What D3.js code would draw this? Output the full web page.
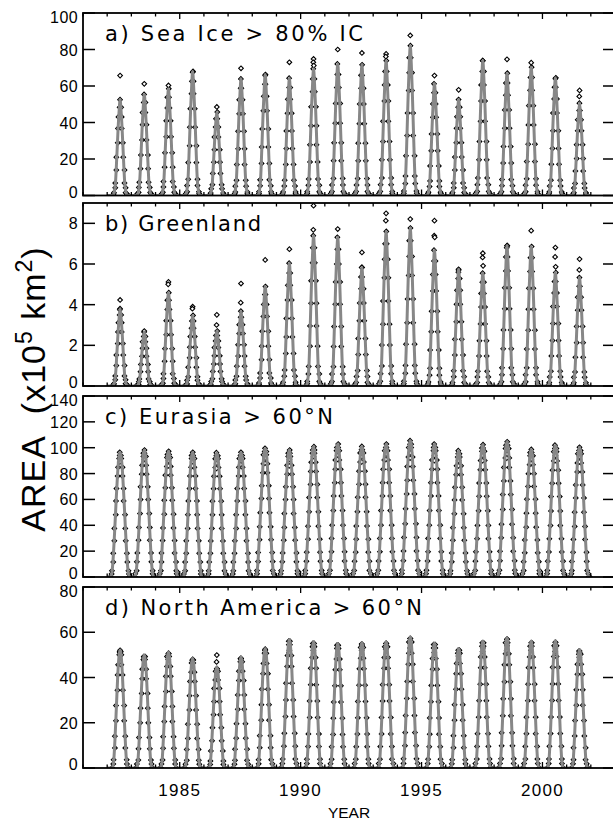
<!DOCTYPE html>
<html>
<head>
<meta charset="utf-8">
<script src="https://cdn.jsdelivr.net/npm/d3@7"></script>
<style>
  body { margin: 0; background: #fff; }
  text { font-family: "Liberation Sans", Arial, sans-serif; fill: #000; }
</style>
</head>
<body>
<div id="chart"></div>
<script>
// ---- data ----
const years = [1982, 1983, 1984, 1985, 1986, 1987, 1988, 1989, 1990, 1991,
               1992, 1993, 1994, 1995, 1996, 1997, 1998, 1999, 2000, 2001];
const yearTicks = [1985, 1990, 1995, 2000];
const peakDay = 195; // day of year of the seasonal maximum

// seasonal maximum of the grey curve, one per year
const seaIcePeak = [52.5, 55.4, 58.5, 68.0, 45.7, 63.9, 66.3, 64.3, 69.4, 72.1,
                    71.6, 73.9, 82.1, 61.2, 52.6, 73.9, 67.0, 70.3, 64.5, 50.6];
const greenlandPeak = [3.80, 2.65, 4.59, 3.47, 2.70, 3.68, 4.89, 6.04, 7.39, 7.31,
                       5.83, 7.60, 7.77, 6.68, 5.74, 5.55, 6.90, 6.86, 5.58, 5.33];
const eurasiaPeak = [96.4, 98.2, 97.2, 96.4, 96.2, 96.4, 99.5, 98.2, 100.8, 102.8,
                     101.0, 102.8, 105.4, 102.8, 97.7, 102.3, 104.6, 98.7, 102.0, 100.3];
const northAmericaPeak = [52.1, 49.9, 51.3, 48.4, 44.5, 48.9, 52.8, 56.8, 55.8, 55.0,
                          55.5, 55.8, 58.0, 55.3, 52.8, 56.1, 57.7, 56.1, 56.3, 52.4];

// highest observed values (diamonds above the curve) per year
const seaIceTop = [[65.7], [61.2], [60.3], [67.6], [48.5], [69.7], [65.7], [73.0], [74.8, 73.0, 71.2], [80.0],
                   [78.1], [77.6, 76.1], [87.7], [65.7], [57.9], [73.9], [74.6], [72.8], [64.0], [57.6, 54.3]];
const greenlandTop = [[4.23, 3.75], [2.70], [5.12, 5.00], [3.90, 3.80], [3.50, 3.00], [5.04, 4.10], [6.20], [6.73], [8.87, 7.68], [7.72],
                      [6.57, 5.83], [8.49, 8.13], [8.21], [8.13, 7.39, 7.31], [5.70, 5.60], [6.53, 6.32, 5.91], [6.90, 6.80], [7.64], [6.81, 6.35, 5.86], [6.24, 5.71]];
const eurasiaTop = [[92, 89], [91, 88], [90, 86], [89, 86], [88, 84], [90, 87], [92, 88], [91, 86], [93, 90], [94, 91],
                    [93, 89], [95, 91], [96, 92], [94, 90], [90, 86], [94, 90], [95, 92], [91, 88], [94, 90], [93, 89]];
const northAmericaTop = [[52.0, 51.0], [49.0, 47.5], [50.0, 48.0], [48.0, 47.5], [49.9, 46.9], [48.5, 48.3], [52.5, 51.0], [52.0, 51.0], [54.0, 52.0], [54.0, 53.0],
                         [54.0, 52.0], [54.0, 52.5], [55.0, 53.0], [53.0, 51.0], [51.0, 49.5], [53.0, 51.5], [54.0, 52.0], [54.0, 52.0], [53.0, 51.5], [51.0, 49.0]];

// seasonal profile (days from peak, fraction of peak)
const narrowDays = [-110, -90, -70, -50, -30, -15, 0, 15, 30, 50, 70, 90, 110];
const narrowFrac = [0, 0.03, 0.13, 0.40, 0.70, 0.88, 1, 0.88, 0.70, 0.40, 0.13, 0.03, 0];
const eurasiaDays = [-140, -120, -100, -80, -60, -40, -20, 0, 20, 40, 60, 80, 100, 120, 140];
const eurasiaFrac = [0, 0.05, 0.19, 0.39, 0.61, 0.81, 0.95, 1, 0.95, 0.81, 0.61, 0.39, 0.19, 0.05, 0];
const northAmericaDays = [-115, -95, -75, -55, -35, -15, 0, 15, 35, 55, 75, 95, 115];
const northAmericaFrac = [0, 0.07, 0.27, 0.53, 0.79, 0.96, 1, 0.96, 0.79, 0.53, 0.27, 0.07, 0];

// observation timing scatter (days), cycled through the samples
const jitterDays = [4, -6, 2, -3, 7, -4, 3, -7, 5, -2, -5, 3, -1, 6];
const sampleStep = 10;

const ticksA = [0, 20, 40, 60, 80, 100];
const ticksB = [0, 2, 4, 6, 8];
const ticksC = [0, 20, 40, 60, 80, 100, 120, 140];
const ticksD = [0, 20, 40, 60, 80];

// ---- layout ----
const W = 613, H = 820;
const left = 83, right = 615;

const panels = [
  {id: "a", label: "a)  Sea Ice  >  80%  IC", labelW: 258, top: 13, bottom: 195.5, yMax: 100,
   ticks: ticksA, peaks: seaIcePeak, tops: seaIceTop, days: narrowDays, frac: narrowFrac},
  {id: "b", label: "b)  Greenland", labelW: 156, top: 203, bottom: 386, yMax: 9,
   ticks: ticksB, peaks: greenlandPeak, tops: greenlandTop, days: narrowDays, frac: narrowFrac},
  {id: "c", label: "c)  Eurasia  >  60°N", labelW: 228, top: 396, bottom: 577, yMax: 140,
   ticks: ticksC, peaks: eurasiaPeak, tops: eurasiaTop, days: eurasiaDays, frac: eurasiaFrac},
  {id: "d", label: "d)  North America  >  60°N", labelW: 317, top: 587, bottom: 768, yMax: 80,
   ticks: ticksD, peaks: northAmericaPeak, tops: northAmericaTop, days: northAmericaDays, frac: northAmericaFrac}
];

const svg = d3.select("#chart").append("svg")
  .attr("width", W).attr("height", H);

const x = d3.scaleLinear().domain([1981, 2003]).range([left, right]);
const minorYears = d3.range(1981, 2004);

const diamond = d3.symbol().type(d3.symbolSquare).size(11);

panels.forEach(p => {
  const y = d3.scaleLinear().domain([0, p.yMax]).range([p.bottom, p.top]);
  const prof = d3.scaleLinear().domain(p.days).range(p.frac).clamp(true);
  const g = svg.append("g");

  g.append("clipPath").attr("id", "clip-" + p.id)
    .append("rect").attr("x", left).attr("y", p.top)
    .attr("width", right - left).attr("height", p.bottom - p.top);

  const plot = g.append("g").attr("clip-path", "url(#clip-" + p.id + ")");

  // observations
  let obs = [];
  years.forEach((yr, i) => {
    const span = p.days[p.days.length - 1];
    let k = 0;
    for (let d = -span - 10; d <= span + 10; d += sampleStep) {
      const jd = jitterDays[(k + i * 5) % jitterDays.length];
      obs.push([yr + (peakDay + d + jd) / 365, p.peaks[i] * prof(d)]);
      k++;
    }
    p.tops[i].forEach((v, j) => {
      obs.push([yr + (peakDay + [0, -4, 4][j]) / 365, v]);
    });
  });

  plot.selectAll("path.obs").data(obs).enter().append("path")
    .attr("class", "obs")
    .attr("d", diamond)
    .attr("transform", d => "translate(" + x(d[0]) + "," + y(d[1]) + ") rotate(45)")
    .attr("fill", "#fff")
    .attr("stroke", "#000")
    .attr("stroke-width", 1.1);

  // smoothed seasonal curve
  let curve = [[1982, 0]];
  years.forEach((yr, i) => {
    p.days.forEach((d, j) => curve.push([yr + (peakDay + d) / 365, p.peaks[i] * p.frac[j]]));
  });
  curve.push([2002, 0]);

  plot.append("path")
    .datum(curve)
    .attr("fill", "none")
    .attr("stroke", "#878787")
    .attr("stroke-width", 3)
    .attr("stroke-linejoin", "round")
    .attr("d", d3.line().x(d => x(d[0])).y(d => y(d[1])).curve(d3.curveMonotoneX));

  // frame
  g.append("rect")
    .attr("x", left).attr("y", p.top)
    .attr("width", right - left).attr("height", p.bottom - p.top)
    .attr("fill", "none").attr("stroke", "#000").attr("stroke-width", 1.8);

  // y ticks, left and right
  g.selectAll("line.yl").data(p.ticks).enter().append("line")
    .attr("x1", left).attr("x2", left + 12)
    .attr("y1", d => y(d)).attr("y2", d => y(d))
    .attr("stroke", "#000").attr("stroke-width", 1.5);
  g.selectAll("line.yr").data(p.ticks).enter().append("line")
    .attr("x1", right - 12).attr("x2", right)
    .attr("y1", d => y(d)).attr("y2", d => y(d))
    .attr("stroke", "#000").attr("stroke-width", 1.5);

  g.selectAll("text.yt").data(p.ticks).enter().append("text")
    .attr("x", left - 5)
    .attr("y", d => {
      let yy = y(d) + 6;
      if (d === p.yMax) yy += 4;
      if (d === 0) yy -= 4;
      return yy;
    })
    .attr("text-anchor", "end")
    .style("font-size", "16px")
    .style("letter-spacing", "0.4px")
    .text(d => d);

  // x ticks, top and bottom
  g.selectAll("line.xt").data(minorYears).enter().append("line")
    .attr("x1", d => x(d)).attr("x2", d => x(d))
    .attr("y1", p.top).attr("y2", d => p.top + (d % 5 === 0 ? 6 : 3.5))
    .attr("stroke", "#000").attr("stroke-width", 1.3);
  g.selectAll("line.xb").data(minorYears).enter().append("line")
    .attr("x1", d => x(d)).attr("x2", d => x(d))
    .attr("y1", p.bottom).attr("y2", d => p.bottom - (d % 5 === 0 ? 6 : 3.5))
    .attr("stroke", "#000").attr("stroke-width", 1.3);

  // panel label
  g.append("text")
    .attr("x", 105).attr("y", p.top + 28)
    .attr("textLength", p.labelW).attr("lengthAdjust", "spacing")
    .style("font-family", "'DejaVu Sans', sans-serif")
    .style("font-size", "21px")
    .text(p.label);
});

// x tick labels under the last panel
svg.selectAll("text.xl").data(yearTicks).enter().append("text")
  .attr("x", d => x(d)).attr("y", 796)
  .attr("text-anchor", "middle")
  .style("font-size", "17px")
  .style("letter-spacing", "1.3px")
  .text(d => d);

svg.append("text")
  .attr("x", (left + right) / 2).attr("y", 818)
  .attr("text-anchor", "middle")
  .style("font-size", "15.5px")
  .text("YEAR");

// y axis title
const yt = svg.append("text")
  .attr("transform", "translate(45,389) rotate(-90)")
  .attr("text-anchor", "middle")
  .style("font-size", "34px")
  .style("letter-spacing", "1px");
yt.append("tspan").text("AREA\u00a0\u00a0(x10");
yt.append("tspan").attr("dy", -13).style("font-size", "23px").text("5");
yt.append("tspan").attr("dy", 13).text("\u00a0km");
yt.append("tspan").attr("dy", -13).style("font-size", "23px").text("2");
yt.append("tspan").attr("dy", 13).text(")");
</script>
</body>
</html>
